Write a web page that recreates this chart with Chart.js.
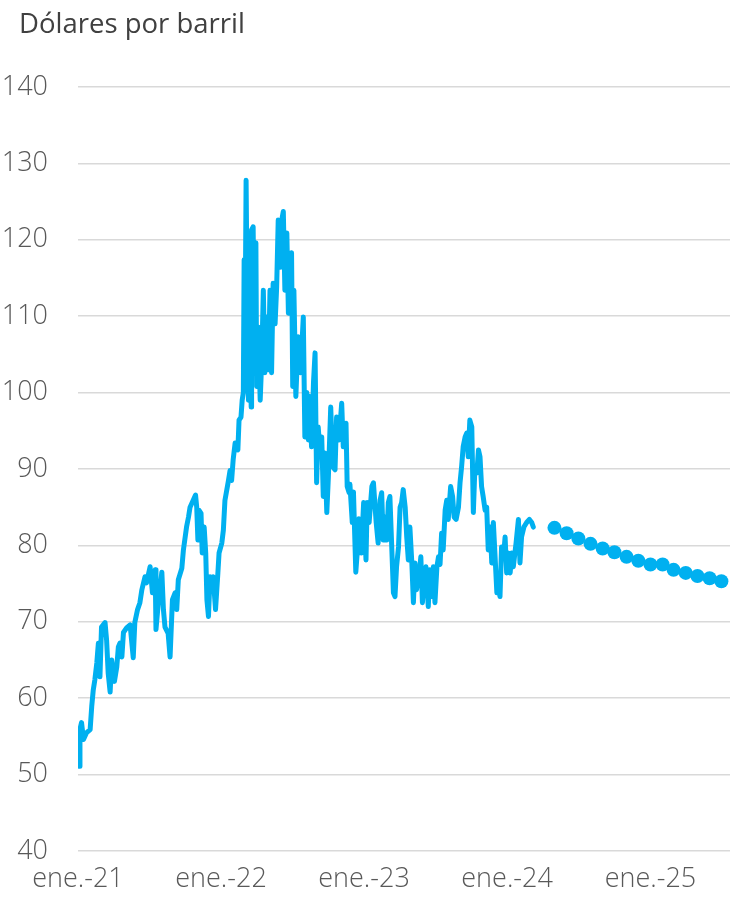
<!DOCTYPE html>
<html lang="es">
<head>
<meta charset="utf-8">
<title>Precio del petróleo Brent</title>
<script src="https://cdn.jsdelivr.net/npm/chart.js@4.4.1/dist/chart.umd.min.js"></script>
<style>
  html, body { margin: 0; padding: 0; background: #ffffff; }
  #grafico { display: block; }
</style>
</head>
<body>
<canvas id="grafico" width="730" height="909"></canvas>
<script>
// Axis title and year labels
const unidad = 'Dólares por barril';
const etiquetasAnio = ['ene.-21', 'ene.-22', 'ene.-23', 'ene.-24', 'ene.-25'];
const diasEtiquetas = [0, 365, 730, 1095, 1461]; // days since 1 Jan 2021

// Brent spot price: sessions as days since 1 Jan 2021, USD per barrel
const diasBrent = [
  3, 5, 9, 14, 22, 31, 35, 39, 43, 48, 52, 56, 60, 69, 73, 77, 82, 86, 93, 99,
  103, 107, 112, 116, 124, 133, 141, 145, 152, 158, 163, 171, 175, 184, 190, 197, 199, 205, 214, 218,
  222, 230, 235, 241, 248, 252, 256, 265, 269, 277, 282, 286, 294, 300, 303, 306, 309, 314, 317, 322,
  326, 329, 333, 337, 343, 345, 351, 357, 360, 367, 371, 375, 384, 388, 392, 396, 401, 408, 411, 416,
  419, 422, 424, 426, 429, 432, 435, 437, 442, 443, 447, 450, 454, 456, 460, 465, 469, 473, 477, 482,
  486, 490, 494, 498, 503, 507, 511, 516, 520, 524, 528, 533, 537, 541, 545, 548, 551, 556, 562, 568,
  575, 579, 584, 588, 592, 596, 601, 605, 609, 613, 618, 622, 626, 630, 635, 639, 645, 650, 656, 660,
  666, 673, 677, 684, 687, 692, 694, 700, 703, 709, 714, 717, 723, 729, 735, 738, 743, 750, 754, 761,
  766, 771, 775, 779, 784, 788, 792, 796, 801, 805, 809, 813, 818, 822, 826, 830, 835, 839, 843, 847,
  852, 856, 860, 864, 871, 875, 879, 883, 888, 894, 898, 903, 907, 911, 916, 920, 924, 928, 932, 937,
  941, 945, 951, 956, 960, 965, 971, 975, 979, 983, 988, 992, 996, 1000, 1005, 1009, 1013, 1018, 1022, 1026,
  1030, 1034, 1039, 1043, 1047, 1052, 1056, 1060, 1064, 1069, 1073, 1077, 1081, 1086, 1090, 1094, 1098, 1103, 1107, 1111,
  1118, 1124, 1128, 1132, 1138, 1145, 1152, 1158, 1162
];
const precioBrent = [
  51.1, 55.9, 56.8, 54.6, 55.5, 55.9, 58.9, 61.1, 62.4, 64.6, 67.2, 62.8, 69.3, 69.9, 67.6, 63.3, 60.8, 65.0, 62.2, 64.1,
  66.7, 67.2, 65.4, 68.6, 69.2, 69.6, 65.3, 69.9, 71.6, 72.5, 74.2, 75.9, 75.1, 77.2, 73.8, 76.8, 69.0, 72.5, 76.5, 71.6,
  69.3, 68.5, 65.4, 72.9, 73.8, 71.6, 75.5, 77.0, 79.4, 82.4, 83.7, 85.0, 85.9, 86.6, 85.0, 80.7, 84.6, 84.2, 79.0, 82.4,
  79.0, 72.9, 70.7, 75.9, 74.6, 75.9, 71.6, 76.4, 79.0, 80.3, 82.0, 85.9, 88.5, 89.8, 88.5, 91.2, 93.4, 92.5, 96.4, 96.8,
  99.0, 100.0, 117.4, 104.3, 127.8, 110.8, 99.0, 118.3, 98.1, 121.3, 121.7, 105.2, 119.6, 100.8, 108.6, 99.0, 104.3, 113.4, 102.6, 109.9,
  103.0, 113.4, 102.6, 114.3, 109.0, 113.8, 122.6, 116.4, 122.6, 123.7, 113.4, 120.9, 110.4, 116.1, 118.3, 100.8, 113.4, 99.5, 107.3, 102.6,
  109.9, 94.2, 100.0, 93.8, 99.5, 92.9, 101.3, 105.2, 88.2, 95.5, 92.1, 94.2, 86.4, 92.1, 84.3, 89.0, 98.1, 90.3, 89.9, 96.8,
  93.8, 98.6, 92.9, 96.0, 87.7, 86.9, 88.0, 83.0, 87.0, 76.5, 80.0, 83.5, 79.0, 85.6, 78.1, 85.6, 83.0, 87.7, 88.2, 83.0,
  80.3, 85.9, 86.9, 80.7, 83.7, 80.7, 85.6, 86.4, 79.4, 73.8, 73.3, 77.2, 79.8, 85.0, 85.6, 87.3, 85.0, 81.1, 78.1, 82.4,
  77.7, 72.5, 77.7, 74.2, 76.4, 78.5, 72.5, 75.5, 77.2, 72.0, 76.8, 73.3, 77.2, 72.5, 77.2, 78.5, 77.5, 81.6, 79.4, 84.6,
  85.9, 83.4, 87.7, 86.4, 83.7, 83.4, 85.0, 88.2, 90.3, 92.9, 94.2, 94.7, 91.6, 96.4, 95.5, 84.3, 90.3, 89.5, 92.5, 91.6,
  87.7, 86.4, 84.6, 85.0, 79.4, 82.4, 77.7, 83.0, 79.0, 73.8, 74.6, 73.3, 79.8, 78.5, 81.1, 76.4, 79.0, 76.4, 79.0, 77.2,
  80.3, 83.4, 77.7, 81.1, 82.4, 83.0, 83.4, 83.0, 82.4
];

// Futures curve, one point per month
const mesesFuturos = [
  '2024-05', '2024-06', '2024-07', '2024-08', '2024-09', '2024-10', '2024-11', '2024-12',
  '2025-01', '2025-02', '2025-03', '2025-04', '2025-05', '2025-06', '2025-07'
];
const precioFuturos = [82.3, 81.6, 80.9, 80.2, 79.6, 79.1, 78.5, 78.0, 77.5, 77.5, 76.8, 76.4, 76.0, 75.7, 75.3];

const DIA_MS = 86400000;
const ORIGEN = Date.UTC(2021, 0, 1);
const diaDeMes = (ym) => {
  const [a, m] = ym.split('-').map(Number);
  return Math.round((Date.UTC(a, m - 1, 1) - ORIGEN) / DIA_MS);
};

const azul = '#00B0F0';
const gris = '#595959';
const fuenteEjes = { family: "'Open Sans', 'Noto Sans', sans-serif", size: 27, weight: '300' };

// Heading above the value axis
const cabecera = {
  id: 'cabecera',
  afterDraw(chart) {
    const ctx = chart.ctx;
    ctx.save();
    ctx.font = "400 27.5px 'Open Sans', 'Noto Sans', sans-serif";
    ctx.fillStyle = '#404040';
    ctx.textAlign = 'left';
    ctx.textBaseline = 'alphabetic';
    ctx.fillText(unidad, 19, 33);
    ctx.restore();
  }
};

new Chart(document.getElementById('grafico'), {
  type: 'line',
  data: {
    datasets: [
      {
        label: 'Brent',
        data: diasBrent.map((d, i) => ({ x: d, y: precioBrent[i] })),
        borderColor: azul,
        borderWidth: 5,
        borderCapStyle: 'round',
        borderJoinStyle: 'round',
        pointRadius: 0,
        tension: 0,
        fill: false
      },
      {
        label: 'Futuros',
        data: mesesFuturos.map((m, i) => ({ x: diaDeMes(m), y: precioFuturos[i] })),
        showLine: false,
        pointRadius: 7,
        pointBackgroundColor: azul,
        pointBorderWidth: 0,
        borderColor: azul
      }
    ]
  },
  options: {
    responsive: false,
    devicePixelRatio: 1,
    animation: false,
    layout: { autoPadding: false, padding: { top: 87, right: 0, bottom: 0, left: 0 } },
    plugins: { legend: { display: false }, tooltip: { enabled: false }, title: { display: false } },
    scales: {
      x: {
        type: 'linear',
        min: 0,
        max: 1664,
        grid: { display: false, drawTicks: false },
        border: { display: false },
        afterBuildTicks: (s) => { s.ticks = diasEtiquetas.map(v => ({ value: v })); },
        afterFit: (s) => { s.height = 58; s.paddingLeft = 0; s.paddingRight = 0; },
        ticks: {
          autoSkip: false,
          maxRotation: 0,
          padding: 12,
          color: gris,
          font: fuenteEjes,
          callback: (v) => etiquetasAnio[diasEtiquetas.indexOf(v)]
        }
      },
      y: {
        min: 40,
        max: 140,
        grid: { color: '#d9d9d9', lineWidth: 1.5, drawTicks: false },
        border: { display: false },
        afterFit: (s) => { s.width = 78; },
        ticks: { stepSize: 10, padding: 30, color: gris, font: fuenteEjes }
      }
    }
  },
  plugins: [cabecera]
});
</script>
</body>
</html>
